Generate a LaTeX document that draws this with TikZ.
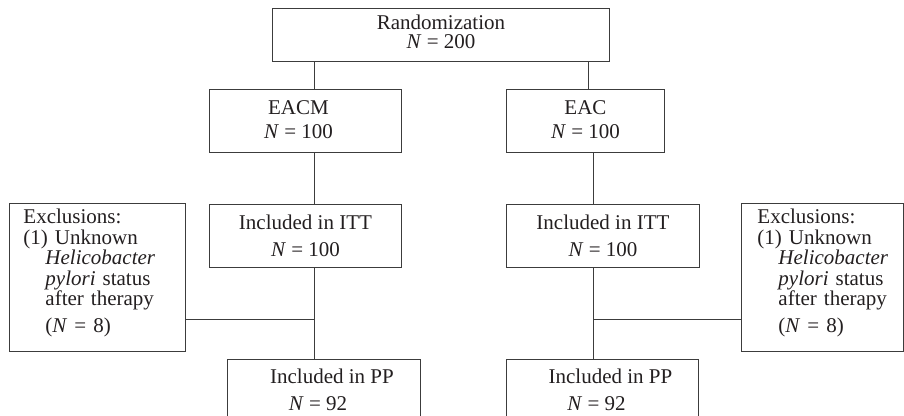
\documentclass[tikz,border=0pt]{standalone}
\usepackage{fontspec}
\setmainfont{Liberation Serif}
\definecolor{linec}{RGB}{60,60,60}
\definecolor{txtc}{RGB}{35,31,32}
\begin{document}
\begin{tikzpicture}[x=1pt,y=-1pt,line width=0.9pt,
  box/.style={draw=linec,rectangle,inner sep=0pt,anchor=north west,align=center,text=txtc},
  exbox/.style={draw=linec,rectangle,inner ysep=0pt,anchor=north west,align=left,text=txtc,
    minimum height=148pt,font=\fontsize{21}{20.5}\selectfont},
  conn/.style={draw=linec,line width=0.9pt}]
\clip (0,0) rectangle (904,415);
% boxes
\node[box,minimum width=337pt,minimum height=53pt,font=\fontsize{21}{19}\selectfont] (rand) at (272,8)
  {Randomization\\\textit{N} = 200\rule[-6pt]{0pt}{6pt}};
\node[box,minimum width=192pt,minimum height=63pt,font=\fontsize{21}{24}\selectfont] (eacm) at (209,89)
  {EACM\hspace*{14pt}\\\textit{N} = 100\hspace*{14pt}\rule[-3pt]{0pt}{3pt}};
\node[box,minimum width=158pt,minimum height=63pt,font=\fontsize{21}{24}\selectfont] (eac) at (506,89)
  {EAC\\\textit{N} = 100\rule[-3pt]{0pt}{3pt}};
\node[box,minimum width=192pt,minimum height=63pt,font=\fontsize{21}{26.3}\selectfont] (ittl) at (209,204)
  {Included in ITT\\\textit{N} = 100};
\node[box,minimum width=193pt,minimum height=63pt,font=\fontsize{21}{26.3}\selectfont] (ittr) at (506,204)
  {Included in ITT\\\textit{N} = 100};
\node[box,minimum width=193pt,minimum height=61pt,font=\fontsize{21}{26.7}\selectfont] (ppl) at (227,359)
  {\hspace*{16pt}Included in PP\\\textit{N} = 92\hspace*{12pt}};
\node[box,minimum width=192pt,minimum height=61pt,font=\fontsize{21}{26.7}\selectfont] (ppr) at (506,359)
  {\hspace*{16pt}Included in PP\\\textit{N} = 92\hspace*{12pt}};
\node[exbox,inner xsep=14pt,text width=148pt,minimum width=176pt] (exl) at (9,203)
  {Exclusions:\\(1) Unknown\\\hspace*{22pt}\mbox{\textit{Helicobacter}}\\\hspace*{22pt}\mbox{\textit{pylori} status}\\\hspace*{22pt}\mbox{after therapy}\\[6.5pt]\hspace*{22pt}(\textit{N} = 8)\rule[-13pt]{0pt}{13pt}};
\node[exbox,inner xsep=16pt,text width=130pt,minimum width=162pt] (exr) at (741,203)
  {Exclusions:\\(1) Unknown\\\hspace*{21pt}\mbox{\textit{Helicobacter}}\\\hspace*{21pt}\mbox{\textit{pylori} status}\\\hspace*{21pt}\mbox{after therapy}\\[6.5pt]\hspace*{21pt}(\textit{N} = 8)\rule[-13pt]{0pt}{13pt}};
% trunk coordinates
\coordinate (cl) at (314,319);
\coordinate (cra) at (588,0);
\coordinate (crb) at (593.5,319);
% connectors
\draw[conn] (rand.south -| cl) -- (eacm.north -| cl);
\draw[conn] (eacm.south -| cl) -- (ittl.north -| cl);
\draw[conn] (ittl.south -| cl) -- (ppl.north -| cl);
\draw[conn] (exl.east |- cl) -- (cl);
\draw[conn] (rand.south -| cra) -- (eac.north -| cra);
\draw[conn] (eac.south -| crb) -- (ittr.north -| crb);
\draw[conn] (ittr.south -| crb) -- (ppr.north -| crb);
\draw[conn] (exr.west |- crb) -- (crb);
\end{tikzpicture}
\end{document}
